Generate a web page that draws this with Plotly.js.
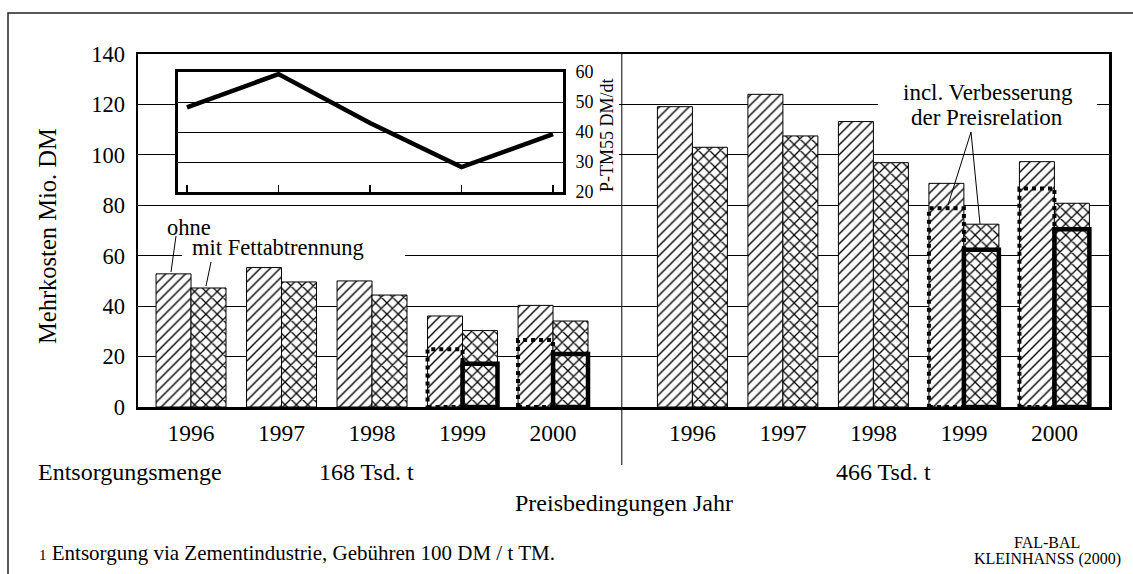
<!DOCTYPE html>
<html>
<head>
<meta charset="utf-8">
<script src="https://cdn.plot.ly/plotly-3.0.1.min.js"></script>
<style>html,body{margin:0;padding:0;background:#fff;}#chart{width:1133px;height:574px;}</style>
</head>
<body>
<div id="chart"></div>
<script>
// ---------- data ----------
const years = ['1996', '1997', '1998', '1999', '2000'];
const sectionLabels = ['168 Tsd. t', '466 Tsd. t'];
const ohne168 = [52.8, 55.3, 50.0, 36.1, 40.3];
const mit168 = [47.2, 49.6, 44.4, 30.3, 34.1];
const ohne466 = [119.1, 124.0, 113.2, 88.7, 97.3];
const mit466 = [103.0, 107.5, 96.9, 72.5, 80.8];
const ohneVerb168 = [null, null, null, 22.9, 26.6];
const mitVerb168 = [null, null, null, 17.2, 21.0];
const ohneVerb466 = [null, null, null, 78.8, 86.7];
const mitVerb466 = [null, null, null, 62.4, 70.5];
const insetYears = [1996, 1997, 1998, 1999, 2000];
const priceTM55 = [48.2, 59.3, 43.0, 28.3, 39.3];
const yTicks = [0, 20, 40, 60, 80, 100, 120, 140];
const insetTicks = [20, 30, 40, 50, 60];

// ---------- layout geometry ----------
const FONT = 'Liberation Serif, Times New Roman, serif';
const L = 138, R = 1109, T = 54, B = 407, FW = 1133, FH = 574;
const W = R - L, H = B - T;
const groupPx = 90.5;
const xr0 = -0.586, xr1 = xr0 + W / groupPx;
const sectionOffset = 5.54;
const bargap = 0.227;
const bw = (1 - bargap) / 2;

const posLeft = years.map((_, i) => i);
const posRight = years.map((_, i) => i + sectionOffset);
const pos = posLeft.concat(posRight);
const tickText = years.concat(years);

const px2x = px => xr0 + (px - L) / groupPx;
const py2y = py => (B - py) / H * 140;
const px2p = px => (px - L) / W;
const py2p = py => (B - py) / H;

const ohneAll = ohne168.concat(ohne466);
const mitAll = mit168.concat(mit466);
const ohneVerbAll = ohneVerb168.concat(ohneVerb466);
const mitVerbAll = mitVerb168.concat(mitVerb466);

const traces = [
  {
    type: 'bar', x: pos, y: ohneAll, name: 'ohne', offsetgroup: 'o', alignmentgroup: 'g',
    marker: {color: '#fff', line: {color: '#000', width: 1},
      pattern: {shape: '/', size: 7, solidity: 0.2, fgcolor: '#000', bgcolor: '#fff', fillmode: 'replace'}},
    xaxis: 'x', yaxis: 'y', showlegend: false
  },
  {
    type: 'bar', x: pos, y: mitAll, name: 'mit Fettabtrennung', offsetgroup: 'm', alignmentgroup: 'g',
    marker: {color: '#fff', line: {color: '#000', width: 1},
      pattern: {shape: 'x', size: 8, solidity: 0.3, fgcolor: '#000', bgcolor: '#fff', fillmode: 'replace'}},
    xaxis: 'x', yaxis: 'y', showlegend: false
  },
  {
    type: 'bar', x: pos, y: mitVerbAll, name: 'mit, incl. Verbesserung', offsetgroup: 'm', alignmentgroup: 'g',
    marker: {color: 'rgba(0,0,0,0)', line: {color: '#000', width: 4.5}},
    xaxis: 'x', yaxis: 'y', showlegend: false
  },
  {
    type: 'scatter', mode: 'lines', x: insetYears, y: priceTM55, name: 'P-TM55',
    line: {color: '#000', width: 4.5}, xaxis: 'x2', yaxis: 'y2', showlegend: false, cliponaxis: false
  }
];

const shapes = [];
// white covers between gridlines and traces
function cover(x0, x1, y0, y1) {
  shapes.push({type: 'rect', xref: 'x', yref: 'y', layer: 'between',
    x0: px2x(x0), x1: px2x(x1), y0: py2y(y1), y1: py2y(y0),
    fillcolor: '#fff', line: {width: 0}});
}
cover(176, 619, 62, 197);
cover(182, 405, 214, 266);
cover(878, 1097, 80, 130);

// dotted outlines for "ohne" incl. Verbesserung
pos.forEach((p, i) => {
  const v = ohneVerbAll[i];
  if (v !== null) {
    shapes.push({type: 'rect', xref: 'x', yref: 'y', layer: 'above',
      x0: p - bw, x1: p, y0: 0, y1: v,
      line: {color: '#000', width: 4, dash: 'dot'}, fillcolor: 'rgba(0,0,0,0)'});
  }
});

// divider between the two disposal quantities
shapes.push({type: 'line', xref: 'x', yref: 'paper', layer: 'above',
  x0: (posLeft[4] + posRight[0]) / 2 - 0.01, x1: (posLeft[4] + posRight[0]) / 2 - 0.01,
  y0: py2p(465), y1: 1, line: {color: '#000', width: 1}});

// leader lines
function seg(x0, y0, x1, y1) {
  shapes.push({type: 'line', xref: 'paper', yref: 'paper', layer: 'above',
    x0: px2p(x0), y0: py2p(y0), x1: px2p(x1), y1: py2p(y1), line: {color: '#000', width: 1}});
}
seg(171, 272, 176, 236);
seg(206, 286, 211, 262);
seg(971, 132, 948, 205);
seg(971, 132, 980, 224);

// outer frame
shapes.push({type: 'rect', xref: 'paper', yref: 'paper', layer: 'below',
  x0: px2p(8), x1: px2p(FW + 20), y0: py2p(FH + 20), y1: py2p(13),
  line: {color: '#222', width: 1.5}, fillcolor: 'rgba(0,0,0,0)'});

function ann(text, px, py, size, opts) {
  return Object.assign({xref: 'paper', yref: 'paper', x: px2p(px), y: py2p(py), text: text,
    showarrow: false, xanchor: 'center', yanchor: 'middle',
    font: {family: FONT, size: size, color: '#000'}}, opts || {});
}

const annotations = [
  ann('Mehrkosten Mio. DM', 47, 236, 24.5, {textangle: -90}),
  ann('P-TM55 DM/dt', 607, 135, 18, {textangle: -90}),
  ann('ohne', 189, 227, 22.5),
  ann('mit Fettabtrennung', 278, 248, 22.5),
  ann('incl. Verbesserung', 988, 93, 23),
  ann('der Preisrelation', 987, 117, 23),
  ann('Entsorgungsmenge', 36, 472, 24, {xanchor: 'left'}),
  ann(sectionLabels[0], 366, 472, 24),
  ann(sectionLabels[1], 883, 472, 24),
  ann('Preisbedingungen Jahr', 624, 503, 24),
  ann('<span style="font-size:15px">1</span> Entsorgung via Zementindustrie, Gebühren 100 DM / t TM.', 37, 553, 21, {xanchor: 'left'}),
  ann('FAL-BAL', 1047, 542, 16),
  ann('KLEINHANSS (2000)', 1047, 559, 16)
];

const layout = {
  width: FW, height: FH,
  margin: {l: L, r: FW - R, t: T, b: FH - B, pad: 0},
  paper_bgcolor: '#fff', plot_bgcolor: '#fff',
  font: {family: FONT, size: 22, color: '#000'},
  barmode: 'group', bargap: bargap, bargroupgap: 0,
  showlegend: false,
  xaxis: {
    domain: [0, 1], range: [xr0, xr1], type: 'linear',
    tickvals: pos, ticktext: tickText, ticks: '', showgrid: false, zeroline: false,
    showline: true, linecolor: '#000', linewidth: 2.5, mirror: true,
    tickfont: {family: FONT, size: 23.5, color: '#000'}, ticklabelstandoff: 3
  },
  yaxis: {
    domain: [0, 1], range: [0, 140], tickvals: yTicks, ticks: '',
    showgrid: true, gridcolor: '#000', gridwidth: 1, zeroline: false,
    showline: true, linecolor: '#000', linewidth: 2.5, mirror: true,
    tickfont: {family: FONT, size: 22.5, color: '#000'}, ticklabelstandoff: 6
  },
  xaxis2: {
    domain: [px2p(178), px2p(563)], anchor: 'y2',
    range: [1995.902, 2000.109], tickvals: insetYears, ticks: 'inside', ticklen: 7, tickwidth: 1.2, tickcolor: '#000',
    showticklabels: false, showgrid: false, zeroline: false,
    showline: true, linecolor: '#000', linewidth: 3, mirror: true
  },
  yaxis2: {
    domain: [py2p(192), py2p(72)], anchor: 'x2', side: 'right',
    range: [20, 60], tickvals: insetTicks, ticks: '',
    showgrid: true, gridcolor: '#000', gridwidth: 1, zeroline: false,
    showline: true, linecolor: '#000', linewidth: 3, mirror: true,
    tickfont: {family: FONT, size: 18, color: '#000'}, ticklabelstandoff: 6
  },
  shapes: shapes,
  annotations: annotations
};

Plotly.newPlot('chart', traces, layout, {displayModeBar: false, staticPlot: true});
</script>
</body>
</html>
